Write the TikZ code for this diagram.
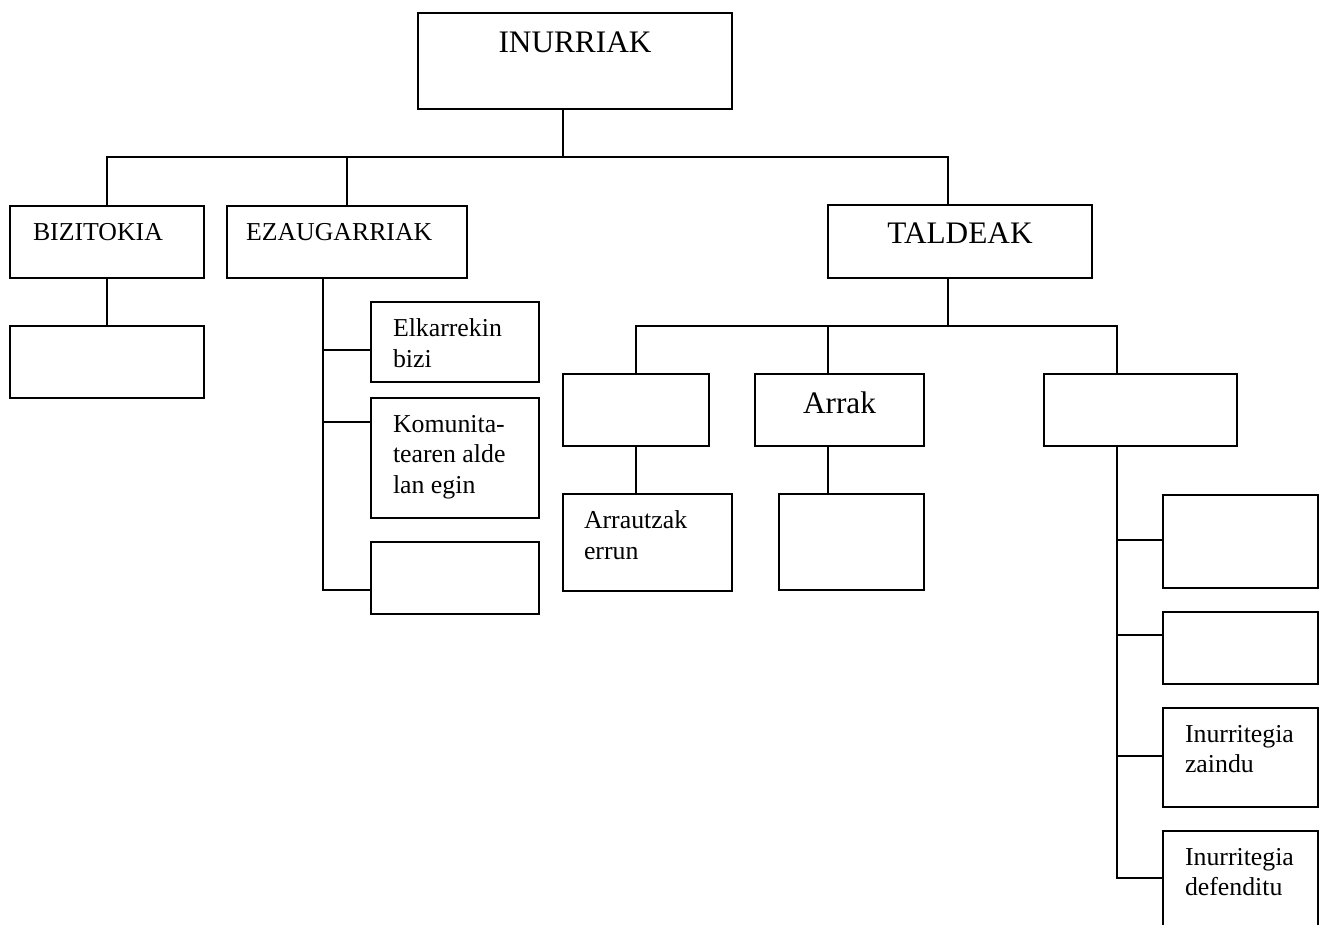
\documentclass[tikz,border=0pt]{standalone}
\usepackage{fontspec}
\setmainfont{Liberation Serif}
\usetikzlibrary{positioning, fit}

\begin{document}
\begin{tikzpicture}[x=1pt, y=-1pt, line width=1.8pt,
  box/.style={draw, rectangle, inner sep=0pt},
  txt/.style={inner sep=0pt, align=left, font=\fontsize{25.8}{30.5}\selectfont},
  big/.style={inner sep=0pt, font=\fontsize{31.3}{37}\selectfont}]
\path[use as bounding box, fill=white] (0,0) rectangle (1321,924);
\clip (0,0) rectangle (1321,924);

\node[box, fit={(418,13) (732,109)}] (root) {};
\node[big, below=19pt of root.north] (rootl) {INURRIAK};

\node[box, fit={(10,206) (204,278)}] (bizi) {};
\node[txt, below right=17pt and 23pt of bizi.north west] (bizil) {BIZITOKIA};
\node[box, fit={(10,326) (204,398)}] (bizic) {};

\node[box, fit={(227,206) (467,278)}] (ezau) {};
\node[txt, below right=17pt and 19pt of ezau.north west] (ezaul) {EZAUGARRIAK};
\node[box, fit={(371,302) (539,382)}] (e1) {};
\node[txt, below right=17pt and 22pt of e1.north west] (e1l) {Elkarrekin\\bizi};
\node[box, fit={(371,398) (539,518)}] (e2) {};
\node[txt, below right=17pt and 22pt of e2.north west] (e2l) {Komunita-\\tearen alde\\lan egin};
\node[box, fit={(371,542) (539,614)}] (e3) {};

\node[box, fit={(828,205) (1092,278)}] (tald) {};
\node[big, below=18pt of tald.north] (taldl) {TALDEAK};
\node[box, fit={(563,374) (709,446)}] (t1) {};
\node[box, fit={(563,494) (732,591)}] (t1c) {};
\node[txt, below right=17pt and 21pt of t1c.north west] (t1cl) {Arrautzak\\errun};
\node[box, fit={(755,374) (924,446)}] (arrak) {};
\node[big, below=18pt of arrak.north] (arrakl) {Arrak};
\node[box, fit={(779,494) (924,590)}] (arrakc) {};
\node[box, fit={(1044,374) (1237,446)}] (t3) {};
\node[box, fit={(1163,495) (1318,588)}] (ta) {};
\node[box, fit={(1163,612) (1318,684)}] (tb) {};
\node[box, fit={(1163,708) (1318,807)}] (tc) {};
\node[txt, below right=17pt and 22pt of tc.north west] (tcl) {Inurritegia\\zaindu};
\node[box, fit={(1163,831) (1318,960)}] (td) {};
\node[txt, below right=17pt and 22pt of td.north west] (tdl) {Inurritegia\\defenditu};

\coordinate (j0) at (563,157);
\coordinate (j1) at (948,157);
\coordinate (ez) at (323,590);
\coordinate (k0) at (948,326);
\coordinate (k1) at (828,326);
\coordinate (k2) at (1117,326);
\coordinate (ts) at (1117,878);

\draw (root.south -| j0) -- (j0);
\draw (bizi.north) |- (j1) -- (j1 |- tald.north);
\draw (ezau.north) -- (ezau.north |- j0);
\draw (bizi) -- (bizic);
\draw (ezau.south -| ez) -- (ez) -- (ez -| e3.west);
\foreach \n/\y in {e1/350, e2/422}
  \draw (323,\y) -- (\n.west |- 323,\y);

\draw (tald.south -| k0) -- (k0);
\draw (t1.north) |- (k2) -- (k2 |- t3.north);
\draw (k1) -- (k1 |- arrak.north);
\draw (t1) -- (t1 |- t1c.north);
\draw (k1 |- arrak.south) -- (k1 |- arrakc.north);
\draw (k2 |- t3.south) -- (ts) -- (ts -| td.west);
\foreach \n/\y in {ta/540, tb/635, tc/756}
  \draw (1117,\y) -- (\n.west |- 1117,\y);
\end{tikzpicture}
\end{document}
